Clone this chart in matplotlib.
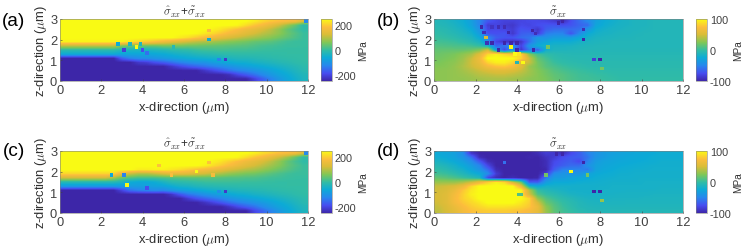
import numpy as np
import matplotlib
matplotlib.use('Agg')
import matplotlib.pyplot as plt
from matplotlib.colors import LinearSegmentedColormap, Normalize

plt.rcParams['font.family'] = ['Liberation Sans', 'DejaVu Sans']
plt.rcParams['mathtext.fontset'] = 'cm'
plt.rcParams['axes.unicode_minus'] = False

# rows run from z=2.9 down to z=0.1, columns from x=0.2 to x=11.8 (MPa)
grid_a = [
    [250]*23 + [235, 215, 200, 190, 180, 170, 130],
    [250]*21 + [245, 220, 195, 175, 150, 120, 80, 40, -10],
    [250]*18 + [240, 225, 205, 185, 165, 150, 130, 105, 75, 40, 15, -5],
    [250]*16 + [245, 230, 215, 195, 175, 160, 140, 125, 105, 90, 70, 45, 25, 5],
    [250]*14 + [235, 220, 200, 180, 165, 145, 130, 115, 100, 88, 75, 65, 50, 35, 20, 5],
    [240]*8 + [230, 215, 200, 185, 165, 150, 135, 120, 105, 95, 85, 75, 65, 58, 50, 40, 35, 30, 20, 10, 5, 3],
    [105]*7 + [60, 40, 40, 40, 40, 50, 50, 50, 45, 45, 40, 38, 35, 33, 30, 28, 22, 15, 12, 8, 5, 5, 3],
    [-10]*7 + [-30, -35, -35, -35, -30, -25, -15, -10, -5, 5, 10, 12, 15, 12, 10, 10, 8, 5, 3, 2, 0, 0, 0],
    [-60]*7 + [-70, -70, -70, -70, -65, -60, -50, -40, -35, -25, -20, -15, -10, -8, -5, -5, -5, -5, -3, -2, 0, 0, 0],
    [-250]*7 + [-170, -130, -115, -110, -100, -90, -80, -70, -60, -55, -50, -45, -40, -30, -25, -25, -20, -15, -12, -8, -5, -3, 0],
    [-250]*9 + [-220, -210, -185, -170, -150, -130, -115, -105, -100, -85, -70, -60, -52, -50, -40, -35, -28, -20, -15, -8, -3],
    [-250]*13 + [-225, -200, -180, -165, -150, -135, -120, -105, -90, -80, -70, -60, -50, -40, -30, -20, -10],
    [-250]*17 + [-225, -200, -175, -150, -130, -120, -105, -90, -75, -60, -45, -30, -15],
    [-250]*20 + [-235, -200, -175, -150, -120, -95, -75, -60, -40, -25],
    [-250]*23 + [-210, -170, -130, -95, -70, -50, -30],
]
grid_c = [
    [250]*23 + [240, 220, 205, 190, 180, 170, 130],
    [250]*21 + [245, 220, 195, 175, 150, 120, 85, 40, -5],
    [250]*18 + [240, 225, 205, 185, 165, 150, 130, 105, 75, 40, 15, -5],
    [250]*17 + [240, 220, 200, 180, 160, 140, 125, 105, 85, 65, 40, 22, 5],
    [250]*9 + [235, 235, 240, 240, 230, 220, 205, 190, 175, 165, 150, 130, 115, 100, 90, 75, 60, 45, 30, 15, 5],
    [210]*7 + [150, 115, 95, 95, 110, 130, 145, 145, 140, 130, 120, 105, 90, 75, 65, 55, 50, 40, 30, 20, 10, 5, 5],
    [120]*6 + [90, 45, 25, 15, 15, 15, 20, 25, 28, 30, 32, 32, 30, 28, 25, 25, 22, 20, 15, 10, 8, 5, 3, 2],
    [-15]*5 + [-15, -15, -30, -55, -65, -65, -55, -35, -15, -10, -5, 0, 5, 8, 8, 8, 6, 5, 5, 3, 2, 0, 0, 0, 0],
    [-90]*5 + [-90, -90, -85, -85, -85, -80, -75, -70, -55, -40, -35, -25, -20, -15, -12, -10, -8, -7, -5, -5, -3, -2, 0, 0, 0],
    [-250]*7 + [-200, -150, -130, -120, -115, -120, -100, -85, -75, -65, -55, -45, -40, -33, -28, -25, -20, -17, -12, -8, -5, -3, 0],
    [-250]*13 + [-225, -180, -145, -125, -105, -90, -75, -65, -55, -50, -40, -35, -28, -20, -15, -8, -3],
    [-250]*15 + [-215, -185, -165, -145, -125, -105, -90, -80, -70, -60, -50, -40, -30, -20, -10],
    [-250]*17 + [-230, -205, -180, -155, -135, -120, -105, -90, -75, -60, -45, -30, -15],
    [-250]*20 + [-225, -195, -170, -150, -120, -95, -75, -60, -40, -25],
    [-250]*23 + [-200, -165, -130, -95, -70, -50, -30],
]
grid_b = [
    [-10, -12, -17, -22, -32, -50, -70, -78, -82, -82, -80, -78, -78, -80, -85, -95, -75, -62, -48, -32, -24, -20, -16, -14, -12, -12, -10, -10, -10, -10],
    [-8, -10, -14, -20, -30, -50, -85, -80, -85, -88, -78, -80, -75, -72, -72, -75, -72, -65, -62, -28, -22, -18, -15, -14, -12, -12, -10, -10, -10, -10],
    [-5, -7, -11, -16, -24, -42, -80, -78, -80, -85, -72, -75, -88, -68, -62, -60, -62, -60, -40, -22, -18, -15, -14, -12, -12, -11, -10, -10, -10, -10],
    [-2, -5, -8, -12, -18, -35, -72, -75, -72, -88, -68, -65, -85, -55, -50, -50, -72, -48, -25, -18, -15, -14, -12, -12, -11, -10, -10, -10, -10, -10],
    [1, -1, -4, -8, -12, -25, -50, -68, -72, -72, -62, -58, -38, -42, -35, -35, -35, -28, -18, -14, -13, -12, -11, -11, -10, -10, -10, -10, -10, -10],
    [5, 4, 2, -2, -6, -14, -45, -80, -90, -92, -90, -60, -35, -28, -22, -22, -22, -17, -14, -12, -11, -10, -10, -10, -10, -10, -10, -10, -10, -10],
    [10, 9, 8, 7, 5, 0, -15, -65, -55, -40, -80, -40, -22, -17, -15, -15, -14, -12, -11, -10, -10, -10, -10, -10, -10, -10, -10, -10, -10, -10],
    [15, 15, 15, 15, 18, 25, 50, -30, -80, -35, -90, -55, -70, -18, -12, -12, -11, -10, -9, -9, -9, -9, -9, -9, -9, -9, -9, -9, -9, -9],
    [18, 20, 22, 28, 35, 55, 85, 95, 85, 75, 85, 25, 5, -2, -5, -7, -8, -8, -8, -8, -8, -8, -8, -8, -8, -8, -8, -8, -8, -8],
    [20, 22, 25, 32, 45, 65, 100, 100, 100, 100, 85, 45, 15, 5, -2, -5, -6, -7, -7, -7, -7, -7, -7, -7, -7, -7, -7, -7, -7, -7],
    [22, 25, 28, 35, 48, 62, 85, 95, 95, 85, 55, 45, 20, 10, 2, -2, -4, -5, -6, -6, -6, -6, -6, -6, -6, -6, -6, -6, -6, -6],
    [25, 26, 30, 37, 46, 55, 68, 75, 78, 70, 55, 32, 22, 12, 7, 3, 0, -2, -4, -5, -5, -5, -5, -5, -5, -5, -5, -5, -5, -5],
    [27, 28, 30, 34, 40, 46, 52, 56, 56, 52, 45, 34, 25, 18, 11, 7, 4, 2, 0, -2, -3, -4, -4, -4, -4, -4, -4, -4, -4, -4],
    [28, 28, 30, 32, 35, 40, 42, 45, 45, 42, 38, 32, 26, 20, 14, 11, 7, 4, 3, 1, 0, -2, -3, -3, -3, -3, -3, -3, -3, -3],
    [28, 28, 30, 30, 32, 34, 36, 36, 36, 34, 32, 28, 26, 22, 16, 12, 8, 5, 4, 3, 1, 0, -2, -2, -2, -2, -2, -2, -2, -2],
]
grid_d = [
    [-25, -28, -32, -45, -90, -100, -100, -100, -100, -100, -100, -100, -95, -85, -88, -95, -78, -68, -52, -42, -35, -32, -30, -28, -26, -25, -24, -22, -22, -22],
    [-22, -25, -30, -40, -60, -95, -100, -100, -100, -100, -100, -98, -100, -92, -85, -75, -70, -68, -58, -40, -35, -30, -28, -26, -25, -24, -22, -22, -22, -22],
    [-15, -20, -25, -32, -45, -70, -95, -100, -100, -100, -100, -100, -100, -95, -78, -72, -68, -78, -52, -35, -30, -28, -26, -25, -24, -23, -22, -20, -20, -20],
    [-8, -12, -18, -25, -35, -50, -80, -100, -100, -100, -100, -100, -100, -95, -75, -68, -62, -62, -42, -32, -28, -26, -24, -23, -22, -21, -20, -20, -20, -20],
    [-2, -6, -12, -18, -28, -40, -62, -95, -100, -100, -100, -100, -100, -98, -68, -52, -50, -50, -55, -30, -26, -24, -22, -21, -20, -20, -19, -19, -19, -19],
    [5, 2, -3, -10, -18, -25, -45, -85, -100, -100, -100, -100, -100, -85, -45, -40, -40, -40, -30, -25, -23, -22, -20, -20, -19, -19, -18, -18, -18, -18],
    [15, 12, 8, 3, -3, -10, -80, -95, -100, -95, -100, -100, -98, -55, -35, -35, -30, -28, -25, -22, -21, -20, -19, -19, -18, -18, -18, -18, -18, -18],
    [30, 30, 30, 35, 45, 60, 80, 95, 85, 45, 15, -70, -70, -35, -25, -25, -24, -22, -21, -20, -19, -18, -18, -18, -18, -17, -17, -17, -17, -17],
    [45, 48, 52, 62, 85, 100, 100, 100, 100, 100, 60, -15, -25, -18, -18, -18, -18, -18, -18, -18, -18, -17, -17, -17, -17, -17, -17, -16, -16, -16],
    [48, 52, 62, 78, 92, 100, 100, 100, 100, 100, 100, 40, 0, -8, -12, -15, -18, -18, -18, -18, -17, -17, -17, -16, -16, -16, -16, -15, -15, -15],
    [50, 55, 68, 82, 95, 100, 100, 100, 100, 100, 95, 50, 10, 0, -5, -10, -14, -16, -17, -17, -16, -16, -15, -15, -15, -15, -14, -14, -14, -14],
    [50, 55, 70, 82, 90, 100, 100, 100, 100, 100, 100, 85, 30, 10, 2, -4, -8, -12, -14, -15, -15, -14, -14, -14, -14, -13, -13, -13, -13, -13],
    [48, 55, 68, 78, 85, 92, 100, 100, 100, 100, 92, 82, 50, 18, 8, 0, -5, -9, -12, -13, -13, -13, -13, -12, -12, -12, -12, -12, -12, -12],
    [45, 52, 62, 72, 80, 85, 90, 90, 90, 88, 85, 78, 62, 28, 12, 3, -3, -8, -10, -11, -11, -11, -11, -11, -11, -11, -11, -11, -11, -11],
    [42, 50, 58, 68, 75, 78, 80, 80, 80, 78, 75, 70, 60, 32, 14, 5, 0, -5, -8, -9, -9, -9, -9, -9, -9, -9, -9, -9, -9, -9],
]

# single cells that stick out of the smooth field: x, z, MPa
spot_x_a = [2.8, 3.4, 3.9, 3.1, 3.7, 4.0, 4.2, 7.2, 7.2, 7.7, 8.0, 5.5, 11.9]
spot_z_a = [1.8, 1.8, 1.8, 1.5, 1.65, 1.5, 1.35, 2.0, 2.45, 1.05, 1.05, 1.65, 2.9]
spot_v_a = [-60, -30, -30, -210, 250, -190, -150, -50, 180, -130, -220, -20, -120]

spot_x_b = [2.5, 3.7, 3.9, 4.1, 4.3, 4.0, 5.5, 6.2, 6.0, 7.2, 7.2, 7.7, 8.0, 8.1,
            2.3, 2.8, 3.1, 3.4, 3.6, 2.4, 4.75, 4.9, 2.55, 2.8, 3.4, 3.7, 4.0, 3.1, 4.0, 4.8]
spot_z_b = [2.1, 1.65, 1.3, 1.3, 0.9, 0.9, 1.65, 2.9, 2.8, 2.5, 2.0, 1.05, 1.05, 0.6,
            2.6, 2.6, 2.6, 2.6, 2.35, 2.35, 2.45, 2.3, 1.85, 1.85, 1.85, 1.85, 1.85, 1.5, 1.5, 1.5]
spot_v_b = [50, 100, 100, 90, 100, -10, 20, -100, -100, -95, -100, -85, -100, 20,
            -100, -90, -95, -95, -100, -95, -100, -95, -95, -100, -100, -100, -100, -100, -100, -100]

spot_x_c = [2.5, 3.1, 3.25, 4.2, 5.4, 6.6, 7.2, 7.4, 7.7, 8.0, 11.9, 4.8]
spot_z_c = [1.85, 1.85, 1.35, 1.2, 1.85, 2.0, 2.45, 1.85, 1.05, 1.05, 2.9, 2.3]
spot_v_c = [-70, -130, 250, -190, 180, 250, 190, 170, -110, -220, -120, 190]

spot_x_d = [6.6, 5.4, 4.1, 4.2, 7.4, 7.7, 8.0, 8.1, 7.2, 5.9, 6.2, 3.4]
spot_z_d = [2.0, 1.85, 0.9, 0.9, 1.85, 1.05, 1.05, 0.6, 2.45, 2.85, 2.85, 2.45]
spot_v_d = [100, 20, 10, 10, 20, -100, -100, 30, -100, -100, -100, -60]

titles = [r'$\hat{\sigma}_{xx}$+$\tilde{\sigma}_{xx}$', r'$\tilde{\sigma}_{xx}$',
          r'$\hat{\sigma}_{xx}$+$\tilde{\sigma}_{xx}$', r'$\tilde{\sigma}_{xx}$']
letters = ['(a)', '(b)', '(c)', '(d)']
limits = [250, 100, 250, 100]
cbar_ticks = [[-200, 0, 200], [-100, 0, 100], [-200, 0, 200], [-100, 0, 100]]
x_ticks = [0, 2, 4, 6, 8, 10, 12]
z_ticks = [0, 1, 2, 3]

parula = LinearSegmentedColormap.from_list('parula', [
    (0.0, (0.2422, 0.1504, 0.6603)),
    (0.12, (0.2780, 0.3000, 0.9400)),
    (0.25, (0.1540, 0.5300, 0.9300)),
    (0.38, (0.0500, 0.6700, 0.8400)),
    (0.5, (0.2000, 0.7400, 0.6400)),
    (0.62, (0.5000, 0.7800, 0.3400)),
    (0.75, (0.8500, 0.7400, 0.2200)),
    (0.87, (0.9900, 0.7400, 0.2400)),
    (1.0, (0.9769, 0.9839, 0.0805)),
])

W, H = 747, 251


def px_axes(fig, x0, y0, x1, y1):
    return fig.add_axes([x0 / W, 1 - y1 / H, (x1 - x0) / W, (y1 - y0) / H])


def draw_panel(fig, box, cbox, grid, sx, sz, sv, lim, title, letter, lx, ly, cticks):
    ax = px_axes(fig, *box)
    norm = Normalize(-lim, lim)
    im = ax.imshow(np.array(grid), extent=[0, 12, 0, 3], aspect='auto', cmap=parula,
                   norm=norm, interpolation='bilinear')
    ax.scatter(sx, sz, c=sv, cmap=parula, norm=norm, s=6.5, marker='s', linewidths=0)
    ax.set_xlim(0, 12)
    ax.set_ylim(0, 3)
    ax.set_xticks(x_ticks)
    ax.set_yticks(z_ticks)
    ax.tick_params(direction='in', length=1.5, width=0.4, labelsize=9.3, pad=2, colors='#404040')
    for s in ax.spines.values():
        s.set_linewidth(0.4)
        s.set_color('#808080')
    ax.set_xlabel(r'x-direction ($\mu$m)', fontsize=9.4, color='#303030', labelpad=2.5)
    ax.set_ylabel(r'z-direction ($\mu$m)', fontsize=9.4, color='#303030', labelpad=1)
    ax.set_title(title, fontsize=8.5, color='#303030', pad=3)
    fig.text(lx / W, 1 - ly / H, letter, fontsize=13.7, ha='left', va='center', color='black')

    cax = px_axes(fig, *cbox)
    cb = fig.colorbar(im, cax=cax)
    cb.set_ticks(cticks)
    cb.ax.tick_params(direction='in', length=0, labelsize=7.8, pad=2, colors='#404040')
    cb.outline.set_linewidth(0.4)
    cb.outline.set_edgecolor('#808080')
    cb.set_label('MPa', fontsize=7.2, color='#303030', labelpad=1)


fig = plt.figure(figsize=(W / 100, H / 100), dpi=100)
draw_panel(fig, (60, 20, 308, 82), (321, 20, 332, 82), grid_a, spot_x_a, spot_z_a, spot_v_a,
           limits[0], titles[0], letters[0], 2, 21, cbar_ticks[0])
draw_panel(fig, (434, 20, 683, 82), (696, 20, 707, 82), grid_b, spot_x_b, spot_z_b, spot_v_b,
           limits[1], titles[1], letters[1], 377, 21, cbar_ticks[1])
draw_panel(fig, (60, 152, 308, 214), (321, 152, 332, 214), grid_c, spot_x_c, spot_z_c, spot_v_c,
           limits[2], titles[2], letters[2], 3, 152, cbar_ticks[2])
draw_panel(fig, (434, 152, 683, 214), (696, 152, 707, 214), grid_d, spot_x_d, spot_z_d, spot_v_d,
           limits[3], titles[3], letters[3], 377, 151, cbar_ticks[3])
fig.savefig('out.png', dpi=100)
